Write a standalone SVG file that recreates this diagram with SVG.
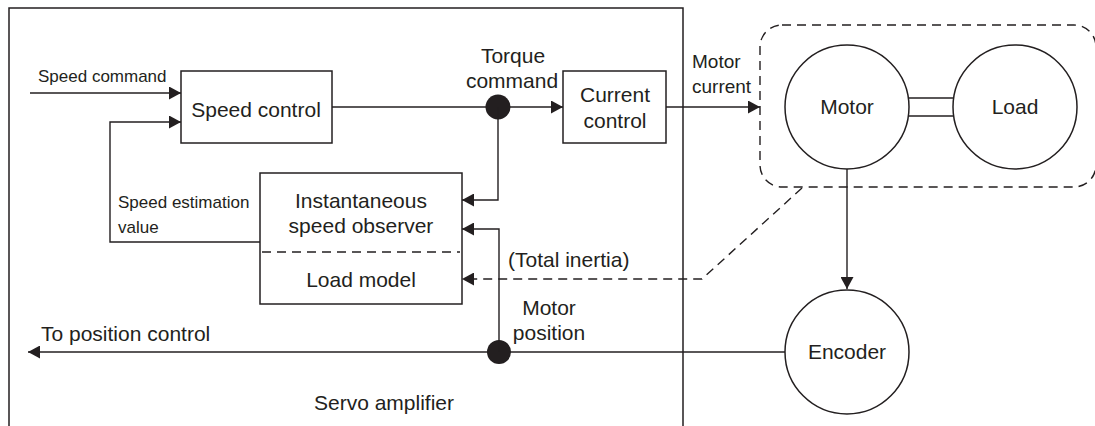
<svg xmlns="http://www.w3.org/2000/svg" width="1095" height="426" viewBox="0 0 1095 426">
<style>
text{font-family:"Liberation Sans",Arial,sans-serif;fill:#231f20;font-size:21px}
.sm{font-size:17px}
.md{font-size:19px}
.c{text-anchor:middle}
.box{fill:none;stroke:#231f20;stroke-width:1.5}
.ln{fill:none;stroke:#231f20;stroke-width:1.4}
.dash{fill:none;stroke:#231f20;stroke-width:1.4;stroke-dasharray:9 6}
.dot{fill:#231f20}
</style>
<defs>
<marker id="ar" markerWidth="13" markerHeight="13" refX="12" refY="6.5" orient="auto" markerUnits="userSpaceOnUse">
<path d="M0,0 L12,6.5 L0,13 z" fill="#231f20"/>
</marker>
</defs>
<g id="servo-amplifier">
<path class="box" d="M9,430 V8 H683 V430"/>
<text class="c" x="384" y="410">Servo amplifier</text>
</g>
<g id="speed-control">
<rect class="box" x="181" y="71" width="151" height="72"/>
<text class="c" x="256" y="117">Speed control</text>
</g>
<g id="current-control">
<rect class="box" x="563" y="71" width="103" height="72"/>
<text class="c" x="615" y="102">Current</text>
<text class="c" x="615" y="128">control</text>
</g>
<g id="observer">
<rect class="box" x="260" y="173" width="202" height="131"/>
<line class="dash" x1="262" y1="252" x2="460" y2="252" stroke-dasharray="7 5"/>
<text class="c" x="361" y="208">Instantaneous</text>
<text class="c" x="361" y="233">speed observer</text>
<text class="c" x="361" y="287">Load model</text>
</g>
<g id="plant">
<rect class="dash" x="760" y="25" width="336" height="162" rx="22"/>
</g>
<g id="motor">
<circle class="box" cx="847" cy="107" r="62"/>
<text class="c" x="847" y="114">Motor</text>
</g>
<g id="load">
<circle class="box" cx="1015" cy="107" r="62"/>
<text class="c" x="1015" y="114">Load</text>
</g>
<g id="encoder">
<circle class="box" cx="847" cy="352" r="62"/>
<text class="c" x="847" y="359">Encoder</text>
</g>
<g id="connectors">
<line class="ln" x1="909" y1="98" x2="953" y2="98"/>
<line class="ln" x1="909" y1="116" x2="953" y2="116"/>
<line class="ln" x1="30" y1="93" x2="181" y2="93" marker-end="url(#ar)"/>
<path class="ln" d="M260,242 H110 V122 H181" marker-end="url(#ar)"/>
<line class="ln" x1="332" y1="107" x2="563" y2="107" marker-end="url(#ar)"/>
<circle class="dot" cx="498" cy="107" r="12.5"/>
<path class="ln" d="M498,107 V200 H462" marker-end="url(#ar)"/>
<line class="ln" x1="666" y1="107" x2="760" y2="107" marker-end="url(#ar)"/>
<line class="ln" x1="847" y1="169" x2="847" y2="289" marker-end="url(#ar)"/>
<line class="ln" x1="785" y1="352" x2="28" y2="352" marker-end="url(#ar)"/>
<circle class="dot" cx="499" cy="352" r="12"/>
<path class="ln" d="M499,352 V229 H462" marker-end="url(#ar)"/>
<path class="dash" d="M802,188 L702,279 H462" marker-end="url(#ar)"/>
</g>
<g id="labels">
<text class="sm" x="38" y="82">Speed command</text>
<text class="sm" x="118" y="208">Speed estimation</text>
<text class="sm" x="118" y="233">value</text>
<text class="c" x="513" y="63">Torque</text>
<text class="c" x="512" y="88">command</text>
<text class="md" x="692" y="68">Motor</text>
<text class="md" x="692" y="93">current</text>
<text x="508" y="267">(Total inertia)</text>
<text class="c" x="549" y="315">Motor</text>
<text class="c" x="549" y="340">position</text>
<text x="41" y="341">To position control</text>
</g>
</svg>
